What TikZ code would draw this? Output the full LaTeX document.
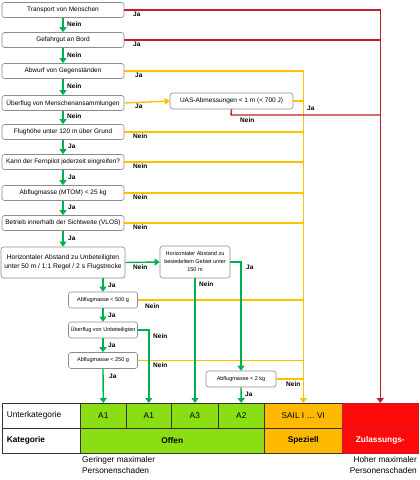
\documentclass[tikz,border=0pt]{standalone}
\usepackage{fontspec}
\setmainfont{Liberation Sans}
\usetikzlibrary{arrows.meta,calc}
\definecolor{gr}{RGB}{0,176,80}
\definecolor{ye}{RGB}{255,192,0}
\definecolor{dr}{RGB}{192,30,45}
\definecolor{lime}{RGB}{140,222,20}
\definecolor{orng}{RGB}{255,185,0}
\definecolor{rd}{RGB}{255,10,10}
\begin{document}
\begin{tikzpicture}[x=1pt,y=-1pt,
  box/.style={draw=black!45, rounded corners=2.5pt, line width=0.6pt, fill=white, inner sep=1pt, align=center, font=\fontsize{6.5}{7.8}\selectfont},
  mainbox/.style={box, minimum width=122pt, minimum height=15pt},
  smallbox/.style={box, minimum width=69pt, minimum height=16pt, font=\fontsize{5.5}{6.6}\selectfont},
  lbl/.style={font=\bfseries\fontsize{6.5}{7}\selectfont, inner sep=0pt, anchor=north west},
  garr/.style={draw=gr, line width=1.4pt, -{Triangle[length=5pt,width=7pt]}},
  gline/.style={draw=gr, line width=1.4pt},
  yarr/.style={draw=ye, line width=1.4pt, -{Triangle[length=5pt,width=7pt]}},
  yline/.style={draw=ye, line width=1.4pt},
  rarr/.style={draw=dr, line width=1.4pt, -{Triangle[length=5pt,width=7pt]}},
  rline/.style={draw=dr, line width=1.4pt},
  cell/.style={draw=black!80, line width=0.6pt, anchor=north west, minimum height=25pt, inner sep=0pt, font=\fontsize{8.3}{9}\selectfont},
  bottxt/.style={font=\fontsize{8.3}{11}\selectfont, inner sep=0pt}
]
\useasboundingbox (0,0) rectangle (420,480);

% boxes
\node[mainbox] (b1) at (63,10) {Transport von Menschen};
\node[mainbox] (b2) at (63,40) {Gefahrgut an Bord};
\node[mainbox] (b3) at (63,71) {Abwurf von Gegenständen};
\node[mainbox] (b4) at (63,103) {Überflug von Menschenansammlungen};
\node[mainbox] (b5) at (63,132) {Flughöhe unter 120 m über Grund};
\node[mainbox] (b6) at (63,162) {Kann der Fernpilot jederzeit eingreifen?};
\node[mainbox] (b7) at (63,193) {Abflugmasse (MTOM) < 25 kg};
\node[mainbox] (b8) at (63,223) {Betrieb innerhalb der Sichtweite (VLOS)};
\node[box, minimum width=124pt, minimum height=31pt, font=\fontsize{6.7}{9}\selectfont] (b9) at (63,262.5) {Horizontaler Abstand zu Unbeteiligten\\unter 50 m / 1:1 Regel / 2 s Flugstrecke};
\node[box, minimum width=70pt, minimum height=32pt, font=\fontsize{5.5}{8}\selectfont] (hr) at (195,262) {Horizontaler Abstand zu\\besiedeltem Gebiet unter\\150 m};
\node[box, minimum width=123pt, minimum height=16pt] (uas) at (231.5,101) {UAS-Abmessungen < 1 m (< 700 J)};
\node[smallbox] (m500) at (103,300) {Abflugmasse < 500 g};
\node[smallbox] (ub) at (103,330) {Überflug von Unbeteiligten};
\node[smallbox] (mz) at (103,360.5) {Abflugmasse < 250 g};
\node[smallbox, minimum width=70pt] (m2) at (241,379) {Abflugmasse < 2 kg};

% table
\node[cell, fill=white, text width=75pt, align=left, minimum width=78pt] (tU) at (2,403) {\hspace*{3pt}Unterkategorie};
\node[cell, fill=lime, minimum width=46pt] (tAa) at (80,403) {A1};
\node[cell, fill=lime, minimum width=45pt] (tAb) at (126,403) {A1};
\node[cell, fill=lime, minimum width=47pt] (tAc) at (171,403) {A3};
\node[cell, fill=lime, minimum width=46pt] (tAd) at (218,403) {A2};
\node[cell, fill=orng, minimum width=78pt] (tS) at (264,403) {SAIL I \dots\ VI};
\node[cell, fill=rd, draw=dr, minimum width=76pt] (tZ) at (342,403) {};
\node[cell, fill=white, text width=75pt, align=left, minimum width=78pt, font=\bfseries\fontsize{8.3}{9}\selectfont] (tK) at (2,428) {\hspace*{3pt}Kategorie};
\node[cell, fill=lime, minimum width=184pt, font=\bfseries\fontsize{8.3}{9}\selectfont] (tO) at (80,428) {Offen};
\node[cell, fill=orng, minimum width=78pt, font=\bfseries\fontsize{8.3}{9}\selectfont] (tSp) at (264,428) {Speziell};
\node[cell, fill=rd, draw=dr, minimum width=76pt, text=white, font=\bfseries\fontsize{8.3}{9}\selectfont] (tZl) at (342,428) {Zulassungs-};

\node[bottxt, anchor=north west, align=left] (gering) at (82,456) {Geringer maximaler\\Personenschaden};
\node[bottxt, anchor=north east, align=right] (hoch) at (417,456) {Hoher maximaler\\Personenschaden};

% yellow connectors
\draw[yarr] (b3.east) -| (tS.north);
\draw[yarr] (b4.east) -- (uas.west);
\draw[yline] (uas.east) -- (uas.east -| tS.north);
\draw[yline] (b5.east) -- (b5.east -| tS.north);
\draw[yline] (b6.east) -- (b6.east -| tS.north);
\draw[yline] (b7.east) -- (b7.east -| tS.north);
\draw[yline] (b8.east) -- (b8.east -| tS.north);
\draw[yline] (m500.east) -- (m500.east -| tS.north);
\draw[yline] (mz.east) -- (mz.east -| tS.north);
\draw[yline] (m2.east) -- (m2.east -| tS.north);

% red connectors
\draw[rarr] (b1.east) -| (tZ.north);
\draw[rline] (b2.east) -- (b2.east -| tZ.north);
\coordinate (uasn) at (231,115);
\draw[rline] (uas.south) -- (uasn) -- (uasn -| tZ.north);

% green connectors
\draw[garr] (b1.south) -- (b2.north);
\draw[garr] (b2.south) -- (b3.north);
\draw[garr] (b3.south) -- (b4.north);
\draw[garr] (b4.south) -- (b5.north);
\draw[garr] (b5.south) -- (b6.north);
\draw[garr] (b6.south) -- (b7.north);
\draw[garr] (b7.south) -- (b8.north);
\draw[garr] (b8.south) -- (b9.north);
\draw[garr] (b9.east) -- (hr.west);
\draw[garr] (hr.east) -| (m2.north);
\draw[garr] (hr.south) -- (hr.south |- tAc.north);
\draw[garr] (b9.south -| m500.north) -- (m500.north);
\draw[garr] (m500.south) -- (ub.north);
\draw[garr] (ub.south) -- (mz.north);
\draw[garr] (mz.south) -- (tAa.north);
\draw[garr] (ub.east) -| (tAb.north);
\draw[garr] (m2.south) -- (tAd.north);

% labels
\node[lbl] (l1) at (133,12) {Ja};
\node[lbl] (l2) at (133,42) {Ja};
\node[lbl] (l3) at (135,73) {Ja};
\node[lbl] (l4) at (135,104) {Ja};
\node[lbl] (l5) at (307,106) {Ja};
\node[lbl] (l6) at (240,118) {Nein};
\node[lbl] (n1) at (67,22) {Nein};
\node[lbl] (n2) at (67,53) {Nein};
\node[lbl] (n3) at (67,84) {Nein};
\node[lbl] (n4) at (67,114) {Nein};
\node[lbl] (j5) at (68,144) {Ja};
\node[lbl] (j6) at (68,175) {Ja};
\node[lbl] (j7) at (68,205) {Ja};
\node[lbl] (j8) at (68,236) {Ja};
\node[lbl] (y5) at (133,134) {Nein};
\node[lbl] (y6) at (133,164) {Nein};
\node[lbl] (y7) at (133,195) {Nein};
\node[lbl] (y8) at (133,225) {Nein};
\node[lbl] (g9) at (133,265) {Nein};
\node[lbl] (ghr) at (246,265) {Ja};
\node[lbl] (ghn) at (199,282) {Nein};
\node[lbl] (j9) at (108,283) {Ja};
\node[lbl] (j500) at (108,313) {Ja};
\node[lbl] (jub) at (108,343) {Ja};
\node[lbl] (j250) at (109,374) {Ja};
\node[lbl] (n500) at (145,304) {Nein};
\node[lbl] (nub) at (153,334) {Nein};
\node[lbl] (n250) at (153,363) {Nein};
\node[lbl] (n2k) at (286,382) {Nein};
\node[lbl] (j2k) at (245,392) {Ja};
\end{tikzpicture}
\end{document}
